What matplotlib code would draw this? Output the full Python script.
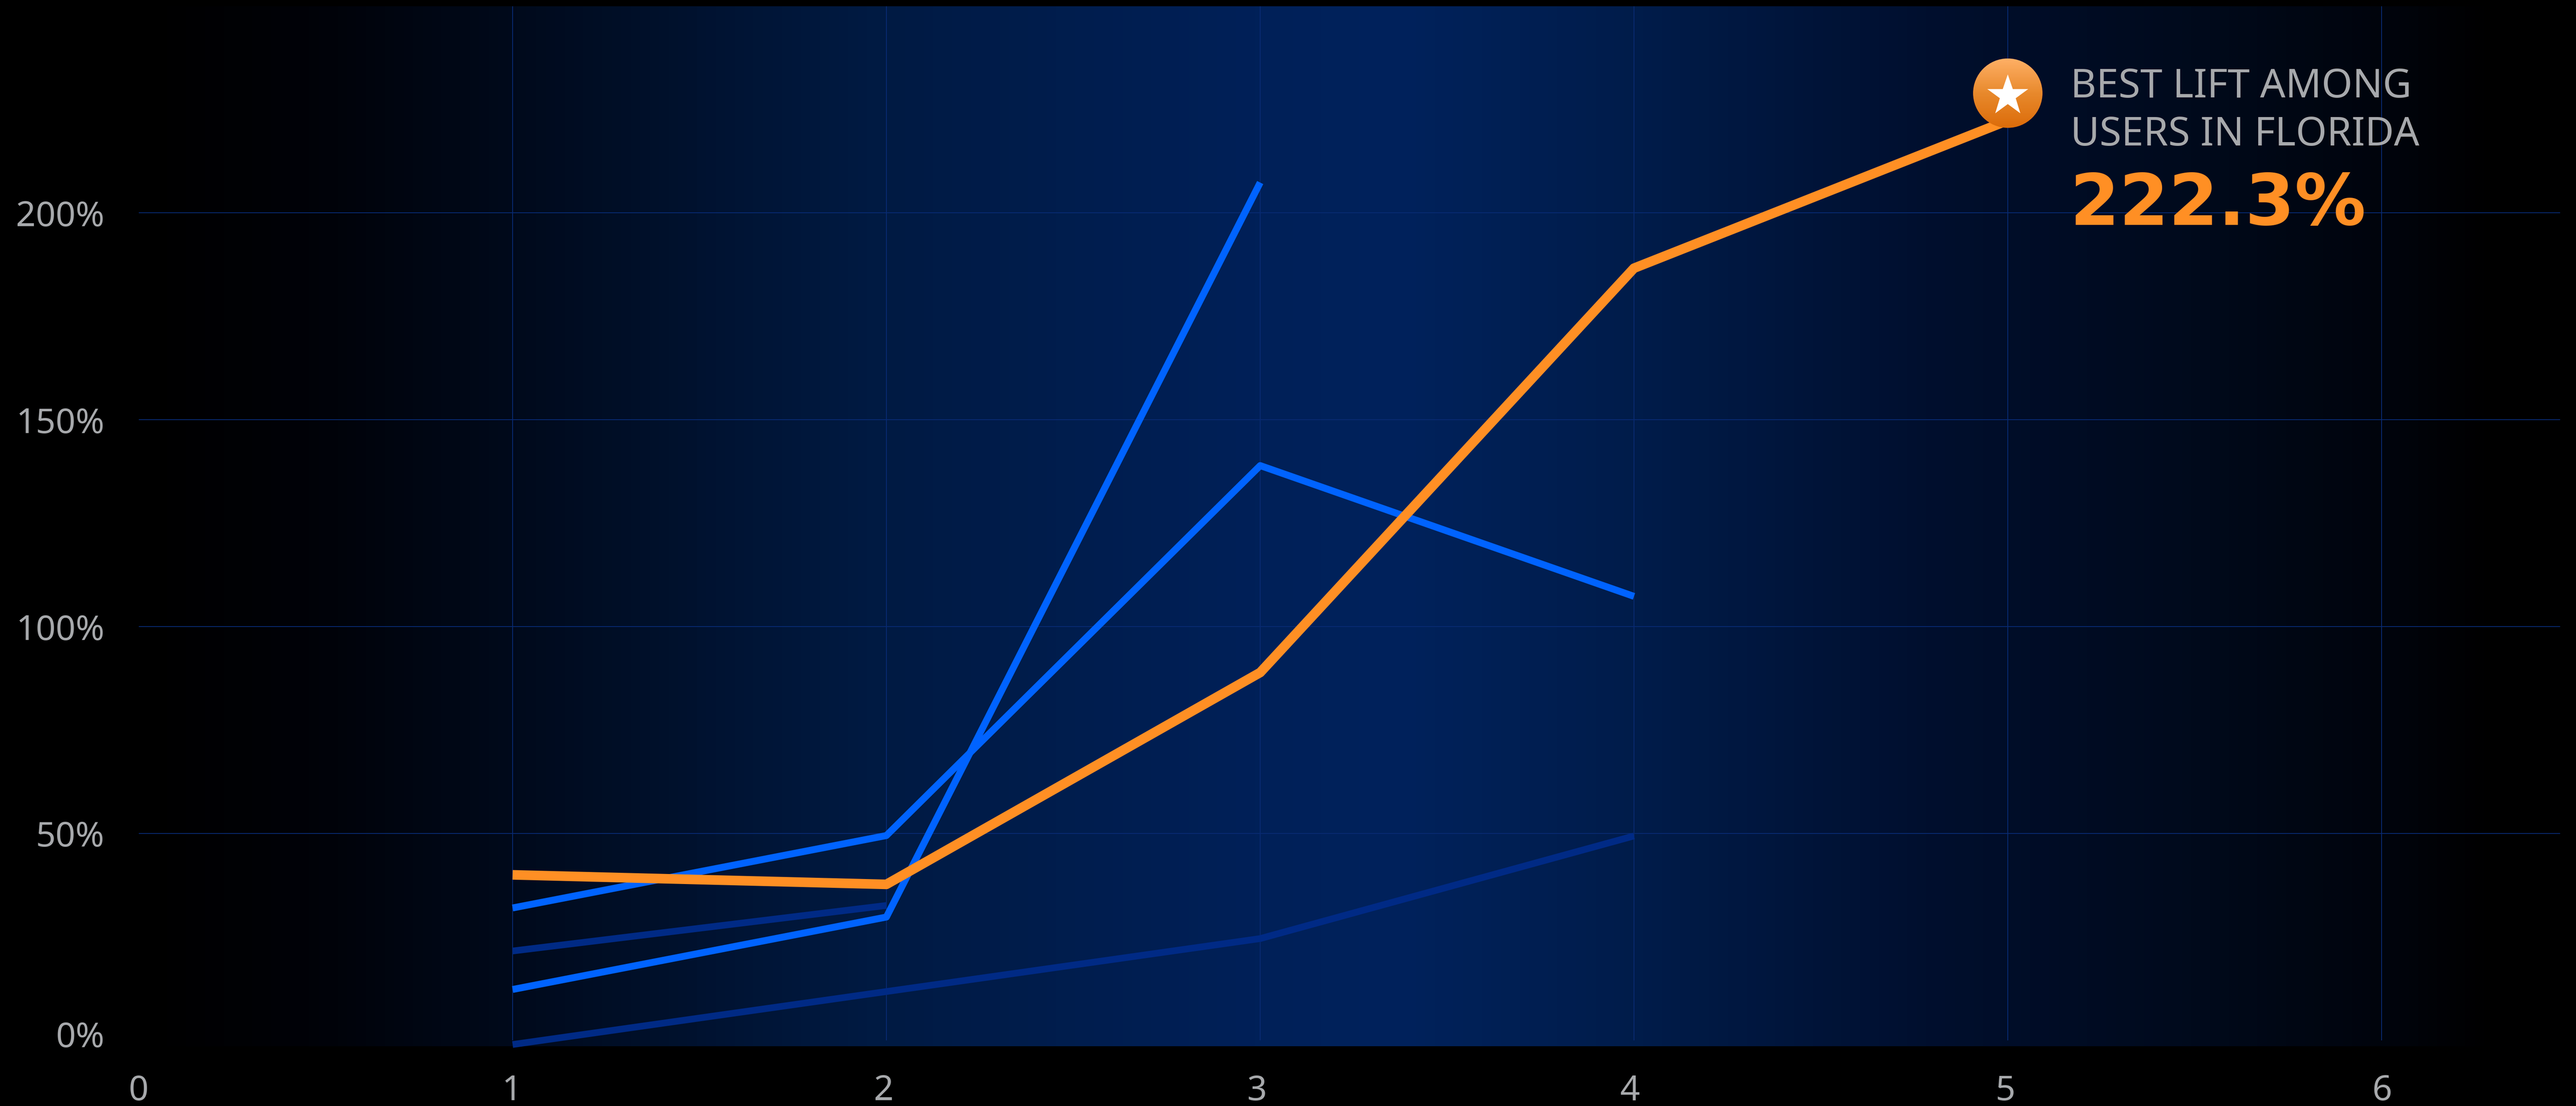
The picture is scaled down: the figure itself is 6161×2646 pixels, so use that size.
import numpy as np
import matplotlib
matplotlib.use('Agg')
import matplotlib.pyplot as plt
from matplotlib.colors import LinearSegmentedColormap
from matplotlib.patches import Ellipse
from matplotlib.transforms import ScaledTranslation

plt.rcParams['font.family'] = ['Noto Sans', 'DejaVu Sans']

# lift per step, one list per campaign
steps_a = [1, 2, 3, 4]
lift_a = [32.0, 49.5, 138.9, 107.3]
steps_b = [1, 2, 3]
lift_b = [12.3, 29.8, 207.3]
steps_c = [1, 2]
lift_c = [21.6, 32.6]
steps_d = [1, 2, 3, 4]
lift_d = [-1.0, 11.8, 24.6, 49.4]
best_lift = 222.3
steps_best = [1, 2, 3, 4, 5]
lift_best = [40.0, 37.7, 88.9, 186.6, best_lift]

x_ticks = [0, 1, 2, 3, 4, 5, 6]
y_ticks = [0, 50, 100, 150, 200]
y_tick_labels = ['0%', '50%', '100%', '150%', '200%']
grid_x = [1, 2, 3, 4, 5, 6]
grid_y = [50, 100, 150, 200]

WIDTH, HEIGHT = 6161, 2646
PX_PER_STEP = 894.0
PX_PER_PCT = 9.9
LEFT, RIGHT, TOP, BOTTOM = 332, 6123, 15, 2503
ZERO_Y = 2489

BLUE = '#0063ff'
DARK_BLUE = '#002a85'
ORANGE = '#ff8f24'
GREY = '#a7a9ac'
GRID = '#082a72'


def px(n):
    # pixel length to points at dpi 100
    return n*0.72


def nudge(label, dx, dy):
    # shift a tick label by some pixels
    label.set_transform(label.get_transform() + ScaledTranslation(dx/100, dy/100, fig.dpi_scale_trans))


fig = plt.figure(figsize=(WIDTH/100, HEIGHT/100), dpi=100, facecolor='black')
ax = fig.add_axes([LEFT/WIDTH, (HEIGHT-BOTTOM)/HEIGHT, (RIGHT-LEFT)/WIDTH, (BOTTOM-TOP)/HEIGHT])
ax.set_facecolor('black')
x_max = (RIGHT-LEFT)/PX_PER_STEP
y_min = (ZERO_Y-BOTTOM)/PX_PER_PCT
y_max = (ZERO_Y-TOP)/PX_PER_PCT

# horizontal glow behind the plot
stops = [(0, '#000000'), (0.07, '#000208'), (0.155, '#000a1c'), (0.30, '#001a42'), (0.46, '#002058'),
         (0.52, '#00225c'), (0.62, '#001c4a'), (0.74, '#000f2e'), (0.85, '#000a1c'),
         (0.93, '#00040c'), (0.975, '#000000'), (1, '#000000')]
glow = LinearSegmentedColormap.from_list('glow', stops)
ax.imshow(np.linspace(0, 1, 1024)[None, :], cmap=glow, aspect='auto', extent=(0, x_max, y_min, y_max), zorder=0)

for v in grid_y:
    ax.axhline(v, color=GRID, lw=px(2), zorder=1)
ax.vlines(grid_x, 0, y_max, color=GRID, lw=px(2), zorder=1)

ax.plot(steps_d, lift_d, color=DARK_BLUE, lw=px(16), solid_capstyle='butt', clip_on=False, zorder=2)
ax.plot(steps_c, lift_c, color=DARK_BLUE, lw=px(16), solid_capstyle='butt', zorder=2)
ax.plot(steps_b, lift_b, color=BLUE, lw=px(16.5), solid_capstyle='butt', zorder=3)
ax.plot(steps_a, lift_a, color=BLUE, lw=px(16.5), solid_capstyle='butt', solid_joinstyle='round', zorder=3)
ax.plot(steps_best, lift_best, color=ORANGE, lw=px(23), solid_capstyle='butt', zorder=4)

# badge on the best point, sits a little above the end of the line
badge_x = steps_best[-1]
badge_y = best_lift + 6.6
rx = 83/PX_PER_STEP
ry = 83/PX_PER_PCT
badge_cmap = LinearSegmentedColormap.from_list('badge', ['#ffb066', '#e8892c', '#dc6c0a'])
im = ax.imshow(np.linspace(0, 1, 256)[:, None], cmap=badge_cmap, aspect='auto',
               extent=(badge_x-rx, badge_x+rx, badge_y-ry, badge_y+ry), zorder=5)
im.set_clip_path(Ellipse((badge_x, badge_y), 2*rx, 2*ry, transform=ax.transData))
ax.plot([badge_x], [badge_y - 6/PX_PER_PCT], marker='*', color='white', markersize=px(103), markeredgewidth=0, zorder=6)

# callout text, offsets are in pixels from the best point
ax.annotate('BEST LIFT AMONG', (badge_x, best_lift), xytext=(150, 55), textcoords='offset pixels',
            color=GREY, fontsize=px(95), va='baseline', ha='left', zorder=7)
ax.annotate('USERS IN FLORIDA', (badge_x, best_lift), xytext=(150, -60), textcoords='offset pixels',
            color=GREY, fontsize=px(95), va='baseline', ha='left', zorder=7)
ax.annotate(f'{best_lift}%', (badge_x, best_lift), xytext=(148, -250), textcoords='offset pixels',
            color=ORANGE, fontsize=px(170), fontweight='bold', family='DejaVu Sans',
            va='baseline', ha='left', zorder=7)

ax.set_xlim(0, x_max)
ax.set_ylim(y_min, y_max)
ax.set_xticks(x_ticks)
ax.set_yticks(y_ticks)
ax.set_yticklabels(y_tick_labels)
ax.tick_params(axis='x', length=0, pad=px(66), labelcolor=GREY, labelsize=px(83))
ax.tick_params(axis='y', length=0, pad=px(82), labelcolor=GREY, labelsize=px(83))
for s in ax.spines.values():
    s.set_visible(False)

# the labels do not sit exactly on their ticks
for lab, dx in zip(ax.get_xticklabels(), [0, -2, -6, -8, -10, -5, 1]):
    nudge(lab, dx, 0)
nudge(ax.get_yticklabels()[0], 0, 15)

fig.savefig('out.png', dpi=100, facecolor='black')
